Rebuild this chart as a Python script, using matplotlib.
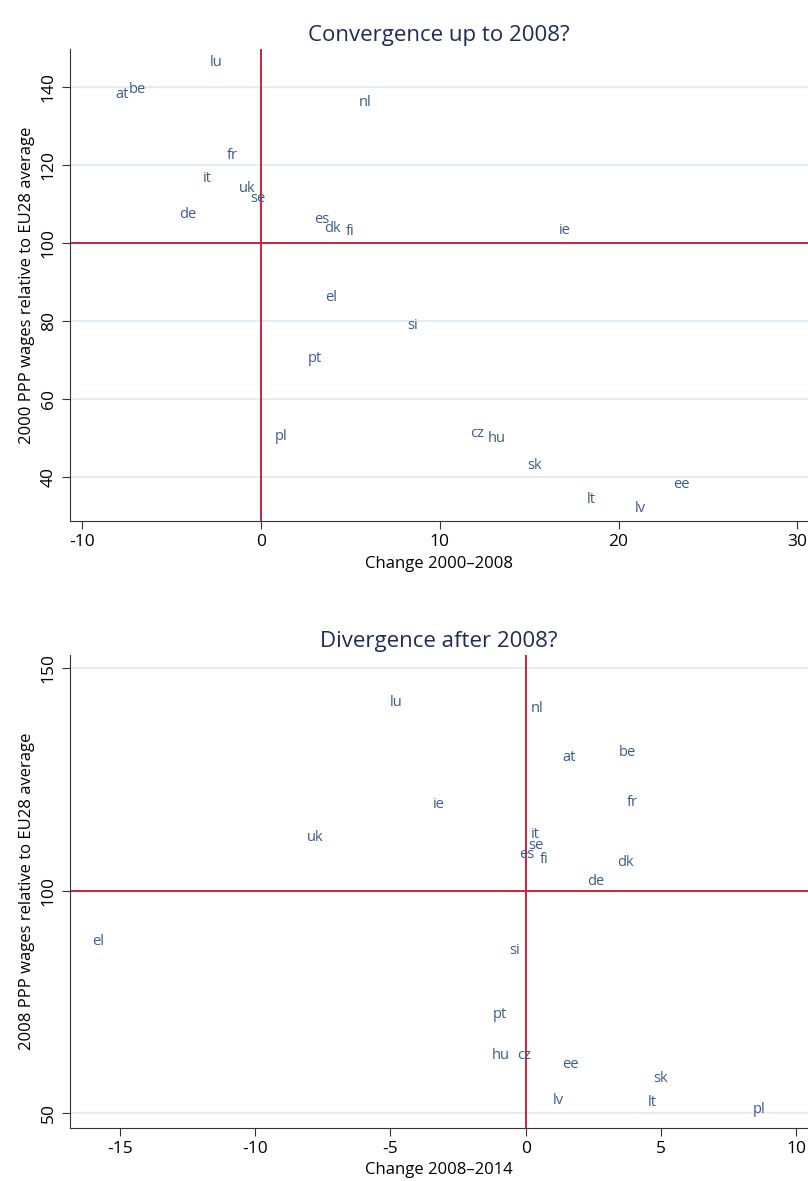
import matplotlib
matplotlib.use("Agg")
import matplotlib.pyplot as plt

plt.rcParams['font.family'] = ['Open Sans', 'DejaVu Sans']

# Panel 1: convergence up to 2008
codes1 = ['lu', 'at', 'be', 'nl', 'fr', 'it', 'uk', 'se', 'de', 'es', 'dk', 'fi', 'ie',
          'el', 'pt', 'pl', 'si', 'cz', 'hu', 'sk', 'lt', 'lv', 'ee']
chg1 = [-2.5, -7.8, -6.9, 5.8, -1.6, -3.0, -0.8, -0.2, -4.1, 3.4, 4.0, 5.0, 17.0,
        3.9, 3.0, 1.1, 8.5, 12.1, 13.2, 15.3, 18.5, 21.2, 23.5]
lvl1 = [146.1, 138, 139.3, 136, 122.4, 116.5, 113.9, 111.3, 107.2, 106.1, 103.8, 102.9, 103.1,
        85.9, 70.3, 50.5, 78.8, 51.3, 50, 43.1, 34.3, 32, 38.1]

# Panel 2: divergence after 2008
codes2 = ['lu', 'nl', 'at', 'be', 'fr', 'ie', 'uk', 'it', 'se', 'es', 'fi', 'dk', 'de',
          'el', 'si', 'pt', 'hu', 'cz', 'ee', 'sk', 'lv', 'lt', 'pl']
chg2 = [-4.8, 0.43, 1.61, 3.76, 3.92, -3.2, -7.79, 0.37, 0.37, 0.04, 0.68, 3.67, 2.59,
        -15.79, -0.42, -0.96, -0.91, -0.06, 1.64, 5.0, 1.22, 4.67, 8.62]
lvl2 = [142.2, 140.8, 129.8, 131.0, 119.8, 119.3, 111.9, 112.7, 110.1, 108.2, 106.9, 106.4, 102.0,
        88.6, 86.5, 72.3, 62.9, 62.9, 61.1, 57.9, 52.9, 52.5, 50.8]

LBL = '#3b5b8c'
RED = '#c8243c'
GRID = '#dfe9ec'
TITLE = '#1f2a5a'

fig = plt.figure(figsize=(8.08, 11.81), dpi=100)


def panel(rect, codes, xs, ys, xlim, ylim, yticks, xticks, title, xlabel, ylabel):
    ax = fig.add_axes(rect)
    for c, x, y in zip(codes, xs, ys):
        ax.text(x, y, c, color=LBL, fontsize=10.5, ha='center', va='center')
    ax.set_xlim(*xlim)
    ax.set_ylim(*ylim)
    ax.set_yticks(yticks)
    ax.set_xticks(xticks)
    ax.set_yticklabels([str(t) for t in yticks], rotation=90, va='center')
    ax.set_xticklabels([str(t) for t in xticks])
    ax.grid(axis='y', color=GRID, linewidth=1.2)
    ax.set_axisbelow(True)
    ax.axhline(100, color=RED, linewidth=1.4)
    ax.axvline(0, color=RED, linewidth=1.4)
    for s in ('top', 'right'):
        ax.spines[s].set_visible(False)
    for s in ('left', 'bottom'):
        ax.spines[s].set_color('#333333')
    ax.tick_params(labelsize=12.5, length=6, color='#333333')
    ax.set_title(title, fontsize=16, color=TITLE, pad=6)
    ax.set_xlabel(xlabel, fontsize=12, labelpad=4)
    ax.set_ylabel(ylabel, fontsize=12, labelpad=4)
    return ax


panel([0.0866, 0.559, 0.9134, 0.3992], codes1, chg1, lvl1, (-10.69, 30.6), (28.9, 149.5),
      [40, 60, 80, 100, 120, 140], [-10, 0, 10, 20, 30], 'Convergence up to 2008?',
      'Change 2000\u20132008', '2000 PPP wages relative to EU28 average')
panel([0.0866, 0.0451, 0.9134, 0.400], codes2, chg2, lvl2, (-16.84, 10.43), (46.8, 152.8),
      [50, 100, 150], [-15, -10, -5, 0, 5, 10], 'Divergence after 2008?',
      'Change 2008\u20132014', '2008 PPP wages relative to EU28 average')

fig.savefig('out.png', dpi=100)
